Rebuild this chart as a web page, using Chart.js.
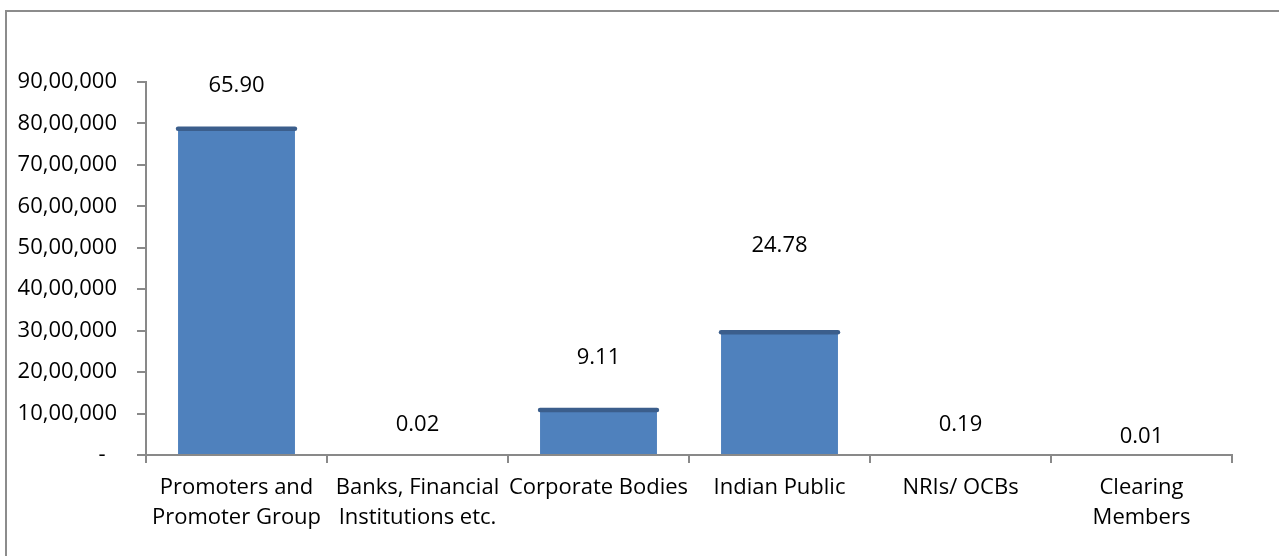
<!DOCTYPE html>
<html>
<head>
<meta charset="utf-8">
<script src="https://cdn.jsdelivr.net/npm/chart.js@4"></script>
<style>
    html, body { margin: 0; padding: 0; background: #fff; }
    #wrap { position: relative; width: 1279px; height: 556px; overflow: hidden; }
    #marco {
        position: absolute; left: 5px; top: 10px; right: -4px; bottom: -4px;
        border-top: 2px solid #8c8c8c; border-left: 2px solid #8c8c8c;
    }
    #grafico { position: absolute; left: 0; top: 0; }
</style>
</head>
<body>
<div id="wrap">
    <div id="marco"></div>
    <canvas id="grafico" width="1279" height="556"></canvas>
</div>
<script>
// Categorias (una linea por elemento del arreglo interno)
const categorias = [
    ['Promoters and', 'Promoter Group'],
    ['Banks, Financial', 'Institutions etc.'],
    ['Corporate Bodies'],
    ['Indian Public'],
    ['NRIs/ OCBs'],
    ['Clearing', 'Members']
];

// Numero de acciones por categoria
const acciones = [7875000, 2400, 1088600, 2961200, 22700, 1200];

// Porcentaje mostrado sobre cada barra
const porcentajes = ['65.90', '0.02', '9.11', '24.78', '0.19', '0.01'];

// Escala del eje Y
const ejeMax = 9000000;
const ejePaso = 1000000;

// Altura de cada etiqueta sobre su barra (px), como en el original
const alturaEtiqueta = [43, 30, 52, 87, 29, 18];

const FUENTE = "'Open Sans', sans-serif";
const GRIS = '#898989';
const AZUL = '#4f81bd';

function formatoIndio(valor) {
    if (valor === 0) return '-  ';
    const s = String(Math.round(valor));
    const ultimos = s.slice(-3);
    let resto = s.slice(0, -3);
    const partes = [];
    while (resto.length > 2) {
        partes.unshift(resto.slice(-2));
        resto = resto.slice(0, -2);
    }
    if (resto) partes.unshift(resto);
    return partes.length ? partes.join(',') + ',' + ultimos : ultimos;
}

// Barras de menos de un pixel quedan ocultas bajo el eje
function colorBarra(context) {
    const v = context.raw;
    return v / ejeMax < 0.005 ? 'rgba(0,0,0,0)' : AZUL;
}

// Borde oscuro en la parte superior de cada barra
const tapaBarras = {
    id: 'tapaBarras',
    afterDatasetsDraw(chart) {
        const ctx = chart.ctx;
        const meta = chart.getDatasetMeta(0);
        ctx.save();
        ctx.strokeStyle = '#3b5e8c';
        ctx.lineWidth = 4.5;
        ctx.lineCap = 'round';
        meta.data.forEach(bar => {
            if (bar.base - bar.y < 3) return;
            ctx.beginPath();
            ctx.moveTo(bar.x - bar.width / 2, bar.y);
            ctx.lineTo(bar.x + bar.width / 2, bar.y);
            ctx.stroke();
        });
        ctx.restore();
    }
};

// Etiquetas de porcentaje
const etiquetas = {
    id: 'etiquetas',
    afterDraw(chart) {
        const ctx = chart.ctx;
        const meta = chart.getDatasetMeta(0);
        ctx.save();
        ctx.fillStyle = '#000';
        ctx.font = `22px ${FUENTE}`;
        ctx.textAlign = 'center';
        ctx.textBaseline = 'middle';
        meta.data.forEach((bar, i) => {
            ctx.fillText(porcentajes[i], bar.x, bar.y - alturaEtiqueta[i]);
        });
        ctx.restore();
    }
};

const ctx = document.getElementById('grafico').getContext('2d');
new Chart(ctx, {
    type: 'bar',
    data: {
        labels: categorias,
        datasets: [{
            data: acciones,
            backgroundColor: colorBarra,
            borderWidth: 0,
            barPercentage: 0.646,
            categoryPercentage: 1
        }]
    },
    options: {
        responsive: false,
        animation: false,
        devicePixelRatio: 1,
        layout: {
            padding: { left: 0, right: 47, top: 82, bottom: 0 }
        },
        plugins: {
            legend: { display: false },
            tooltip: { enabled: false }
        },
        scales: {
            x: {
                z: 1,
                offset: true,
                afterFit(scale) { scale.height = 101; },
                border: { color: GRIS, width: 2 },
                grid: {
                    offset: true,
                    drawOnChartArea: false,
                    color: GRIS,
                    lineWidth: 2,
                    tickLength: 8
                },
                ticks: {
                    color: '#000',
                    padding: 10,
                    maxRotation: 0,
                    autoSkip: false,
                    font: { family: FUENTE, size: 22, lineHeight: 1.36 }
                }
            },
            y: {
                min: 0,
                max: ejeMax,
                afterFit(scale) { scale.width = 146; },
                border: { color: GRIS, width: 2 },
                grid: {
                    drawOnChartArea: false,
                    color: GRIS,
                    lineWidth: 2,
                    tickLength: 9
                },
                ticks: {
                    stepSize: ejePaso,
                    color: '#000',
                    padding: 20,
                    font: { family: FUENTE, size: 22 },
                    callback: value => formatoIndio(value)
                }
            }
        }
    },
    plugins: [tapaBarras, etiquetas]
});
</script>
</body>
</html>
